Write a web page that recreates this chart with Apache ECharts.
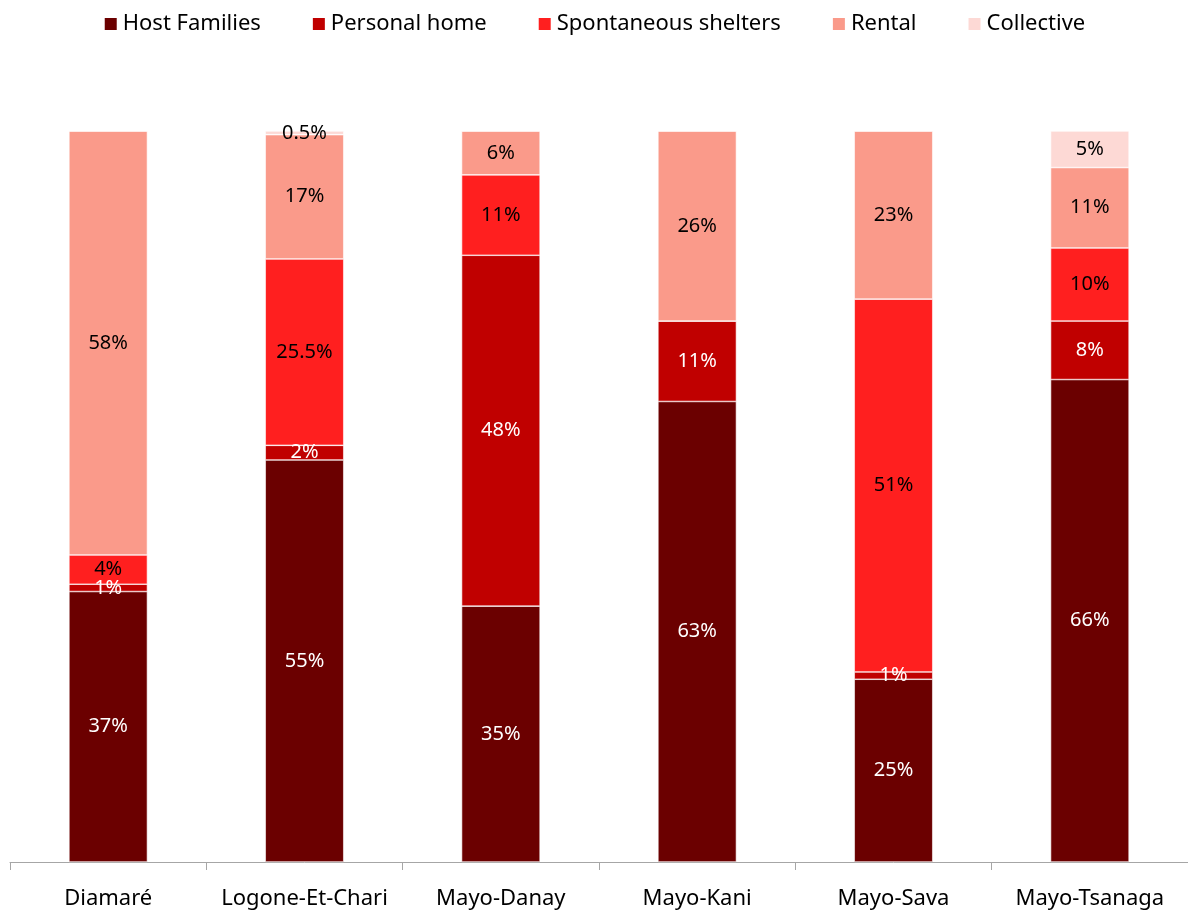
<!DOCTYPE html>
<html>
<head>
<meta charset="utf-8">
<script src="https://cdn.jsdelivr.net/npm/echarts@6/dist/echarts.min.js"></script>
<style>
  html, body { margin: 0; padding: 0; background: #fff; }
  #chart { width: 1188px; height: 916px; }
</style>
</head>
<body>
<div id="chart"></div>
<script>
const categories = ['Diamaré', 'Logone-Et-Chari', 'Mayo-Danay', 'Mayo-Kani', 'Mayo-Sava', 'Mayo-Tsanaga']
const hostFamilies = [37, 55, 35, 63, 25, 66]
const personalHome = [1, 2, 48, 11, 1, 8]
const spontaneousShelters = [4, 25.5, 11, 0, 51, 10]
const rental = [58, 17, 6, 26, 23, 11]
const collective = [0, 0.5, 0, 0, 0, 5]

const font = '"Noto Sans", sans-serif'

const makeSeries = (name, data, color, labelColor) => ({
  name,
  type: 'bar',
  stack: 'total',
  barWidth: '40%',
  data,
  itemStyle: {
    color,
    borderColor: '#ffffff',
    borderWidth: 0.6
  },
  label: {
    show: true,
    position: 'inside',
    color: labelColor,
    fontFamily: font,
    fontSize: 20,
    formatter: p => (p.value ? p.value + '%' : '')
  }
})

const chart = echarts.init(document.getElementById('chart'))
chart.setOption({
  animation: false,
  legend: {
    top: 8,
    left: 'center',
    itemWidth: 14,
    itemHeight: 14,
    itemGap: 50,
    icon: 'rect',
    textStyle: {
      fontFamily: font,
      fontSize: 22,
      color: '#000'
    }
  },
  grid: {
    left: 10,
    right: 0,
    top: 131,
    bottom: 54
  },
  xAxis: {
    type: 'category',
    data: categories,
    axisLine: { lineStyle: { color: '#a6a6a6', width: 1 } },
    axisTick: { show: true, interval: 0, length: 8, lineStyle: { color: '#a6a6a6' } },
    axisLabel: {
      interval: 0,
      color: '#000',
      fontFamily: font,
      fontSize: 22,
      margin: 26
    }
  },
  yAxis: {
    type: 'value',
    min: 0,
    max: 100,
    show: false
  },
  series: [
    makeSeries('Host Families', hostFamilies, '#6b0000', '#ffffff'),
    makeSeries('Personal home', personalHome, '#c00000', '#ffffff'),
    makeSeries('Spontaneous shelters', spontaneousShelters, '#ff1f1f', '#000000'),
    makeSeries('Rental', rental, '#fa9a8a', '#000000'),
    makeSeries('Collective', collective, '#fdd9d5', '#000000')
  ]
})
</script>
</body>
</html>
